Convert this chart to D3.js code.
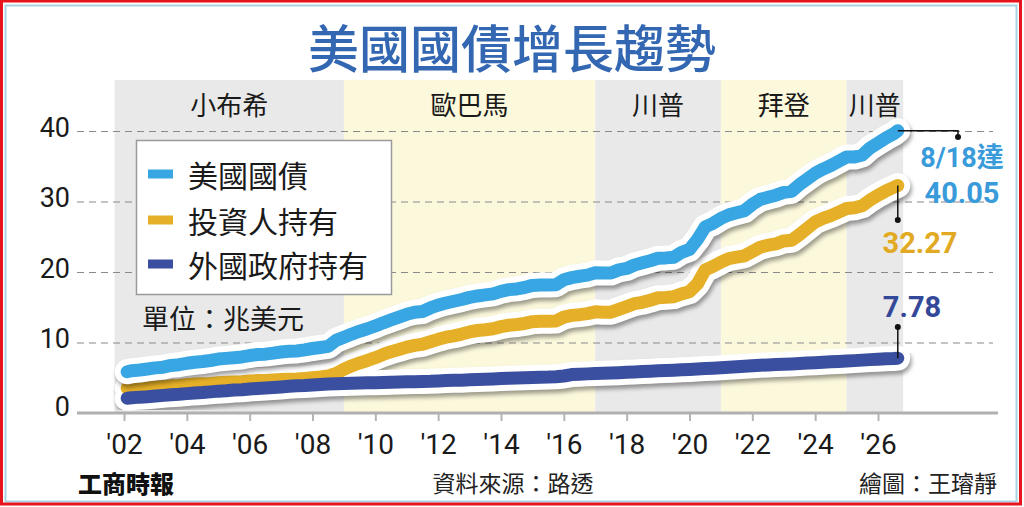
<!DOCTYPE html>
<html>
<head>
<meta charset="utf-8">
<script src="https://cdn.jsdelivr.net/npm/d3@7"></script>
<style>
  html, body { margin: 0; padding: 0; background: #fff; }
  svg { display: block; }
  .cjk { font-family: "Noto Sans CJK TC", "Noto Sans", sans-serif; }
  .num { font-family: Roboto, "Liberation Sans", sans-serif; }
</style>
</head>
<body>
<div class="display"></div>
<script>
const width = 1024;
const height = 507;

// data (trillion USD)
const years = [2002.1, 2002.25, 2002.5, 2002.75,
  2003, 2003.25, 2003.5, 2003.75, 2004, 2004.25, 2004.5, 2004.75,
  2005, 2005.25, 2005.5, 2005.75, 2006, 2006.25, 2006.5, 2006.75,
  2007, 2007.25, 2007.5, 2007.75, 2008, 2008.25, 2008.5, 2008.75,
  2009, 2009.25, 2009.5, 2009.75, 2010, 2010.25, 2010.5, 2010.75,
  2011, 2011.25, 2011.5, 2011.75, 2012, 2012.25, 2012.5, 2012.75,
  2013, 2013.25, 2013.5, 2013.75, 2014, 2014.25, 2014.5, 2014.75,
  2015, 2015.25, 2015.5, 2015.75, 2016, 2016.25, 2016.5, 2016.75,
  2017, 2017.25, 2017.5, 2017.75, 2018, 2018.25, 2018.5, 2018.75,
  2019, 2019.25, 2019.5, 2019.75, 2020, 2020.25, 2020.5, 2020.75,
  2021, 2021.25, 2021.5, 2021.75, 2022, 2022.25, 2022.5, 2022.75,
  2023, 2023.25, 2023.5, 2023.75, 2024, 2024.25, 2024.5, 2024.75,
  2025, 2025.25, 2025.5, 2025.75, 2026, 2026.25, 2026.5, 2026.63];

const totalDebt = [5.85, 6.0, 6.1, 6.25,
  6.4, 6.5, 6.75, 6.85, 7.05, 7.2, 7.3, 7.45,
  7.65, 7.75, 7.85, 7.95, 8.15, 8.3, 8.35, 8.5,
  8.65, 8.75, 8.8, 8.95, 9.15, 9.3, 9.45, 10.3,
  10.75, 11.2, 11.6, 11.95, 12.35, 12.8, 13.2, 13.6,
  14.0, 14.3, 14.4, 14.9, 15.3, 15.6, 15.85, 16.1,
  16.4, 16.6, 16.75, 16.9, 17.25, 17.5, 17.6, 17.8,
  18.1, 18.15, 18.15, 18.2, 18.9, 19.2, 19.4, 19.55,
  19.9, 19.85, 19.85, 20.3, 20.5, 21.0, 21.3, 21.6,
  21.95, 22.0, 22.1, 22.8, 23.2, 24.6, 26.4, 26.9,
  27.6, 28.1, 28.4, 28.7, 29.6, 30.3, 30.6, 30.9,
  31.3, 31.45, 32.4, 33.2, 34.0, 34.6, 35.1, 35.7,
  36.3, 36.3, 36.6, 37.6, 38.3, 39.0, 39.6, 40.05];

const investorHeld = [3.5, 3.55, 3.6, 3.65,
  3.7, 3.75, 3.85, 3.9, 4.0, 4.1, 4.15, 4.2,
  4.3, 4.35, 4.4, 4.45, 4.55, 4.6, 4.62, 4.68,
  4.75, 4.8, 4.82, 4.9, 5.0, 5.1, 5.25, 5.6,
  6.2, 6.7, 7.1, 7.45, 7.85, 8.3, 8.7, 9.0,
  9.35, 9.6, 9.75, 10.1, 10.45, 10.75, 10.95, 11.2,
  11.5, 11.7, 11.8, 11.95, 12.25, 12.45, 12.55, 12.7,
  12.95, 13.0, 13.0, 13.05, 13.6, 13.85, 13.95, 14.1,
  14.35, 14.3, 14.3, 14.7, 15.1, 15.5, 15.7, 16.0,
  16.35, 16.4, 16.5, 16.9, 17.2, 18.3, 20.3, 20.8,
  21.4, 21.9, 22.1, 22.3, 22.9, 23.5, 23.8, 24.0,
  24.4, 24.5, 25.3, 26.2, 27.1, 27.6, 28.0, 28.5,
  29.0, 29.1, 29.4, 30.2, 30.9, 31.5, 32.0, 32.27];

const foreignGovHeld = [2.1, 2.15, 2.25, 2.3,
  2.4, 2.5, 2.6, 2.65, 2.75, 2.85, 2.9, 3.0,
  3.1, 3.15, 3.25, 3.3, 3.4, 3.48, 3.55, 3.62,
  3.7, 3.78, 3.85, 3.9, 3.98, 4.05, 4.1, 4.15,
  4.2, 4.22, 4.25, 4.28, 4.3, 4.33, 4.36, 4.38,
  4.42, 4.45, 4.48, 4.5, 4.55, 4.6, 4.63, 4.66,
  4.7, 4.75, 4.78, 4.82, 4.88, 4.92, 4.95, 5.0,
  5.05, 5.08, 5.1, 5.15, 5.25, 5.45, 5.5, 5.55,
  5.6, 5.63, 5.67, 5.72, 5.78, 5.83, 5.88, 5.93,
  5.98, 6.02, 6.06, 6.12, 6.18, 6.25, 6.3, 6.35,
  6.42, 6.48, 6.55, 6.62, 6.7, 6.78, 6.82, 6.87,
  6.92, 6.96, 7.02, 7.08, 7.14, 7.2, 7.26, 7.32,
  7.38, 7.43, 7.5, 7.57, 7.62, 7.68, 7.73, 7.78];

const seriesNames = ['美國國債', '投資人持有', '外國政府持有'];
const presidents = ['小布希', '歐巴馬', '川普', '拜登', '川普'];
const termStarts = [2001.7, 2009, 2017, 2021, 2025];
const termEnds = [2009, 2017, 2021, 2025, 2026.8];
const xTickYears = [2002, 2004, 2006, 2008, 2010, 2012, 2014, 2016, 2018, 2020, 2022, 2024, 2026];
const xTickLabels = ["'02", "'04", "'06", "'08", "'10", "'12", "'14", "'16", "'18", "'20", "'22", "'24", "'26"];
const yTicks = [0, 10, 20, 30, 40];
const endLabels = ['40.05', '32.27', '7.78'];

const colors = ['#38a6e2', '#e5b027', '#3a4f9f'];
const textColors = ['#3a9bdb', '#e2aa22', '#34489a'];
const bandColors = ['#e9e9e9', '#fbf8dc'];

const svg = d3.select('.display')
  .append('svg')
  .attr('width', width)
  .attr('height', height);

const defs = svg.append('defs');
defs.append('filter')
  .attr('id', 'blur')
  .attr('x', '-5%').attr('y', '-20%').attr('width', '110%').attr('height', '140%')
  .append('feGaussianBlur')
  .attr('stdDeviation', 2.2);

// frame
svg.append('rect')
  .attr('x', 0).attr('y', 0).attr('width', width).attr('height', height)
  .attr('fill', '#fff');
svg.append('rect')
  .attr('x', 5.5).attr('y', 5.5).attr('width', 1011).attr('height', 496)
  .attr('fill', 'none').attr('stroke', '#a9d3e2').attr('stroke-width', 2);
svg.append('rect')
  .attr('x', 1.5).attr('y', 1).attr('width', 1019).attr('height', 503)
  .attr('fill', 'none').attr('stroke', '#e8141b').attr('stroke-width', 3);

const x = d3.scaleLinear().domain([2002, 2026]).range([124, 878]);
const y = d3.scaleLinear().domain([0, 40]).range([413, 131]);

// president bands
svg.append('g')
  .selectAll('rect')
  .data(presidents)
  .join('rect')
  .attr('x', (d, i) => x(termStarts[i]))
  .attr('y', 80)
  .attr('width', (d, i) => x(termEnds[i]) - x(termStarts[i]))
  .attr('height', y(0) - 80)
  .attr('fill', (d, i) => bandColors[i % 2]);

svg.append('g')
  .selectAll('text')
  .data(presidents)
  .join('text')
  .attr('class', 'cjk')
  .attr('x', (d, i) => (x(termStarts[i]) + x(termEnds[i])) / 2)
  .attr('y', 103)
  .attr('text-anchor', 'middle')
  .attr('dominant-baseline', 'central')
  .attr('font-size', 26)
  .attr('fill', '#1a1a1a')
  .text(d => d);

// y axis with dashed grid
const yAxis = d3.axisLeft(y)
  .tickValues(yTicks)
  .tickSize(-916)
  .tickPadding(7);

const yAxisG = svg.append('g')
  .attr('transform', 'translate(77, 0)')
  .call(yAxis);
yAxisG.select('.domain').remove();
yAxisG.selectAll('.tick line')
  .attr('stroke', '#8a8a8a')
  .attr('stroke-width', 1.2)
  .attr('stroke-dasharray', '7,5')
  .attr('opacity', d => d === 0 ? 0 : 1);
yAxisG.selectAll('.tick text')
  .attr('class', 'num')
  .attr('font-size', 27)
  .attr('fill', '#1a1a1a')
  .attr('dy', d => d === 0 ? '0.1em' : '0.2em');

// x axis
const xAxis = d3.axisBottom(x)
  .tickValues(xTickYears)
  .tickFormat((d, i) => xTickLabels[i])
  .tickSize(8)
  .tickPadding(13);

const xAxisG = svg.append('g')
  .attr('transform', `translate(0, ${y(0)})`)
  .call(xAxis);
xAxisG.select('.domain').remove();
xAxisG.selectAll('.tick line').attr('stroke', '#b5b5b5').attr('stroke-width', 2);
xAxisG.selectAll('.tick text')
  .attr('class', 'num')
  .attr('font-size', 28)
  .attr('fill', '#1a1a1a');

svg.append('line')
  .attr('x1', 77).attr('x2', 998)
  .attr('y1', y(0)).attr('y2', y(0))
  .attr('stroke', '#b0b0b0')
  .attr('stroke-width', 3);

// lines
const series = [totalDebt, investorHeld, foreignGovHeld];
const line = d3.line()
  .x((d, i) => x(years[i]))
  .y(d => y(d))
  .curve(d3.curveLinear);

function drawLayer(parent, idxs, kind) {
  idxs.forEach(k => {
    const p = parent.append('path')
      .attr('d', line(series[k]))
      .attr('fill', 'none')
      .attr('stroke-linecap', 'round')
      .attr('stroke-linejoin', 'round');
    if (kind === 'shadow') {
      p.attr('stroke', 'rgba(0,0,0,0.38)')
        .attr('stroke-width', 25)
        .attr('transform', 'translate(1.5, 3.5)')
        .attr('filter', 'url(#blur)');
    } else if (kind === 'halo') {
      p.attr('stroke', '#fff').attr('stroke-width', 25);
    } else {
      p.attr('stroke', colors[k]).attr('stroke-width', 13);
    }
  });
}

const lowGroup = svg.append('g');
drawLayer(lowGroup, [1, 2], 'shadow');
drawLayer(lowGroup, [1, 2], 'halo');
drawLayer(lowGroup, [1, 2], 'color');

const topGroup = svg.append('g');
drawLayer(topGroup, [0], 'shadow');
drawLayer(topGroup, [0], 'halo');
drawLayer(topGroup, [0], 'color');

// end annotations
const lastX = x(years[years.length - 1]);
const ends = series.map(s => y(s[s.length - 1]));
const ann = svg.append('g').attr('stroke', '#111').attr('stroke-width', 1.5).attr('fill', 'none');
ann.append('path').attr('d', `M${lastX},${ends[0]}H958V137`);
ann.append('path').attr('d', `M${lastX},${ends[1]}V220`);
ann.append('path').attr('d', `M${lastX},327V${ends[2]}`);
svg.append('g').attr('fill', '#111')
  .selectAll('circle')
  .data([[958, 137], [lastX, 220], [lastX, 327]])
  .join('circle')
  .attr('cx', d => d[0]).attr('cy', d => d[1]).attr('r', 3);

svg.append('text')
  .attr('x', 962).attr('y', 158)
  .attr('text-anchor', 'middle')
  .attr('dominant-baseline', 'central')
  .attr('font-size', 27)
  .attr('font-weight', 'bold')
  .attr('fill', textColors[0])
  .attr('font-family', 'Roboto, "Noto Sans CJK TC", sans-serif')
  .text('8/18達');

const endLabelPos = [[962, 193], [920, 243], [912, 307]];
svg.append('g')
  .selectAll('text')
  .data(endLabels)
  .join('text')
  .attr('class', 'num')
  .attr('x', (d, i) => endLabelPos[i][0])
  .attr('y', (d, i) => endLabelPos[i][1])
  .attr('text-anchor', 'middle')
  .attr('dominant-baseline', 'central')
  .attr('font-size', 29)
  .attr('font-weight', 'bold')
  .attr('fill', (d, i) => textColors[i])
  .text(d => d);

// legend
const legend = svg.append('g').attr('id', 'legend');
legend.append('rect')
  .attr('x', 136.5).attr('y', 140.5).attr('width', 255).attr('height', 154)
  .attr('fill', '#fff').attr('stroke', '#9a9a9a').attr('stroke-width', 1.5);
const legendY = [174, 220, 264];
legend.selectAll('rect.sw')
  .data(seriesNames)
  .join('rect')
  .attr('class', 'sw')
  .attr('x', 148).attr('y', (d, i) => legendY[i] - 4.5)
  .attr('width', 25).attr('height', 9)
  .attr('fill', (d, i) => colors[i]);
legend.selectAll('text')
  .data(seriesNames)
  .join('text')
  .attr('class', 'cjk')
  .attr('x', 188).attr('y', (d, i) => legendY[i])
  .attr('dominant-baseline', 'central')
  .attr('font-size', 30)
  .attr('fill', '#1a1a1a')
  .text(d => d);

svg.append('text')
  .attr('class', 'cjk')
  .attr('x', 142).attr('y', 317)
  .attr('dominant-baseline', 'central')
  .attr('font-size', 27)
  .attr('fill', '#1a1a1a')
  .text('單位：兆美元');

// title
svg.append('text')
  .attr('class', 'cjk')
  .attr('x', 512).attr('y', 46)
  .attr('text-anchor', 'middle')
  .attr('dominant-baseline', 'central')
  .attr('font-size', 51)
  .attr('font-weight', 500)
  .attr('fill', '#3367b2')
  .text('美國國債增長趨勢');

// footer
svg.append('text')
  .attr('class', 'cjk')
  .attr('x', 78).attr('y', 482)
  .attr('dominant-baseline', 'central')
  .attr('font-size', 24)
  .attr('font-weight', 900)
  .attr('fill', '#111')
  .text('工商時報');
svg.append('text')
  .attr('class', 'cjk')
  .attr('x', 513).attr('y', 482)
  .attr('text-anchor', 'middle')
  .attr('dominant-baseline', 'central')
  .attr('font-size', 23)
  .attr('fill', '#222')
  .text('資料來源：路透');
svg.append('text')
  .attr('class', 'cjk')
  .attr('x', 997).attr('y', 482)
  .attr('text-anchor', 'end')
  .attr('dominant-baseline', 'central')
  .attr('font-size', 23)
  .attr('fill', '#222')
  .text('繪圖：王璿靜');
</script>
</body>
</html>
